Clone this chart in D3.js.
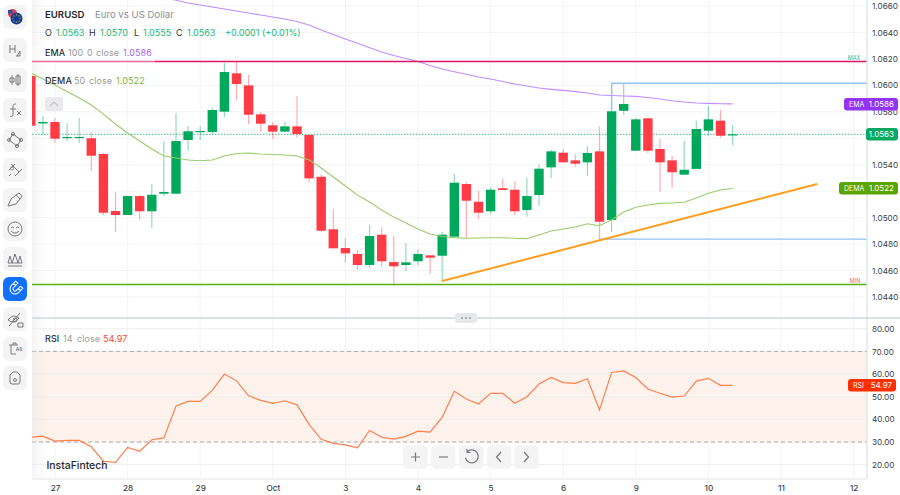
<!DOCTYPE html>
<html>
<head>
<meta charset="utf-8">
<script src="https://cdn.jsdelivr.net/npm/d3@7"></script>
<style>
  html, body { margin: 0; padding: 0; background: #fff; }
  svg { display: block; font-family: Inter, "Noto Sans", sans-serif; }
</style>
</head>
<body>
<svg id="chart" width="900" height="495"></svg>
<script>
// bar -2 is the first visible 4H candle, bar 0 is the 27th at 00:00
const firstBar = -2
const opens = [1.06071,1.05712,1.05723,1.05604,1.05604,1.05600,1.05481,1.05050,1.05020,1.05163,1.05048,1.05181,1.05181,1.05587,1.05650,1.05647,1.05801,1.06091,1.06000,1.05781,1.05698,1.05650,1.05690,1.05625,1.05309,1.04912,1.04770,1.04725,1.04642,1.04871,1.04664,1.04642,1.04670,1.04715,1.04712,1.04856,1.05254,1.05120,1.05048,1.05222,1.05211,1.05058,1.05171,1.05380,1.05491,1.05433,1.05418,1.05501,1.04982,1.05808,1.05506,1.05751,1.05519,1.05433,1.05325,1.05368,1.05657,1.05733,1.0563]
const highs = [1.06086,1.05768,1.05753,1.05713,1.05753,1.05642,1.05491,1.05194,1.05163,1.05173,1.05254,1.05579,1.05789,1.05693,1.05693,1.05831,1.06171,1.06179,1.06081,1.05801,1.05723,1.05723,1.05920,1.05625,1.05328,1.05063,1.04844,1.04755,1.04944,1.04927,1.04861,1.04806,1.04763,1.04720,1.04894,1.05330,1.05267,1.05204,1.05229,1.05292,1.05277,1.05302,1.05400,1.05511,1.05517,1.05479,1.05542,1.05687,1.06016,1.06010,1.05751,1.05751,1.05594,1.05466,1.05582,1.05733,1.05844,1.05814,1.0570]
const lows = [1.05685,1.05632,1.05566,1.05579,1.05562,1.05353,1.05020,1.04894,1.05020,1.04982,1.04921,1.05163,1.05181,1.05506,1.05587,1.05632,1.05759,1.05889,1.05708,1.05650,1.05592,1.05645,1.05607,1.05264,1.04894,1.04768,1.04659,1.04604,1.04621,1.04629,1.04498,1.04596,1.04640,1.04576,1.04516,1.04856,1.04844,1.04990,1.05027,1.05209,1.05020,1.05007,1.05088,1.05300,1.05418,1.05386,1.05315,1.04831,1.04891,1.05776,1.05506,1.05486,1.05196,1.05226,1.05325,1.05368,1.05619,1.05604,1.0555]
const closes = [1.05695,1.05723,1.05597,1.05610,1.05610,1.05468,1.05037,1.05020,1.05163,1.05048,1.05173,1.05194,1.05579,1.05653,1.05655,1.05814,1.06101,1.06010,1.05778,1.05710,1.05650,1.05690,1.05632,1.05297,1.04901,1.04768,1.04730,1.04642,1.04861,1.04670,1.04632,1.04662,1.04725,1.04697,1.04871,1.05264,1.05128,1.05037,1.05211,1.05209,1.05048,1.05163,1.05370,1.05501,1.05418,1.05408,1.05489,1.04969,1.05804,1.05859,1.05743,1.05506,1.05418,1.05343,1.05362,1.05670,1.05743,1.05619,1.0563]

const firstEmaBar = 9
const ema = [1.06664,1.06643,1.06623,1.06608,1.06592,1.06577,1.06562,1.06547,1.06532,1.06517,1.06502,1.06483,1.06456,1.06419,1.06385,1.06351,1.06318,1.06285,1.06252,1.06226,1.06203,1.06180,1.06150,1.06124,1.06103,1.06084,1.06063,1.06048,1.06029,1.06010,1.05995,1.05980,1.05970,1.05962,1.05953,1.05942,1.05927,1.05923,1.05920,1.05917,1.05908,1.05897,1.05884,1.05874,1.05867,1.05864,1.05861,1.0586]
const dema = [1.06093,1.06048,1.06003,1.05954,1.05904,1.05851,1.05783,1.05708,1.05640,1.05579,1.05519,1.05466,1.05451,1.05436,1.05430,1.05436,1.05466,1.05485,1.05489,1.05481,1.05477,1.05474,1.05466,1.05436,1.05375,1.05307,1.05239,1.05170,1.05118,1.05057,1.05004,1.04959,1.04914,1.04876,1.04857,1.04849,1.04844,1.04846,1.04848,1.04848,1.04844,1.04841,1.04869,1.04899,1.04914,1.04929,1.04954,1.04939,1.04982,1.05042,1.05078,1.05095,1.05108,1.05111,1.05116,1.05148,1.05184,1.05209,1.0522]
const rsi = [32.1,32.6,30.4,30.7,30.7,27.9,21.5,21.0,27.6,25.9,31.0,31.8,45.9,47.9,47.9,52.8,60.0,57.0,50.4,48.4,47.1,48.2,46.4,37.8,31.2,29.4,28.7,27.4,35.1,32.1,31.3,32.5,34.8,34.4,40.9,52.4,49.0,46.8,51.5,51.5,47.1,50.0,55.6,58.5,56.2,55.9,57.9,44.1,60.7,61.4,58.5,53.4,51.5,49.8,50.3,56.9,58.1,55.0,54.97]

const dayLabels = ["27","28","29","Oct","3","4","5","6","9","10","11","12"]
const priceTicks = [1.066,1.064,1.062,1.060,1.058,1.056,1.054,1.052,1.050,1.048,1.046,1.044]
// these two sit fully behind the value tags in the reference
const hiddenPriceLabels = [1.056, 1.052]
const rsiTicks = [80,70,60,50,40,30,20]

const maxPrice = 1.0618, minPrice = 1.04495, lastPrice = 1.0563
const trendBars = [32, 63], trendPrices = [1.04521, 1.05254]
const rangeHigh = 1.06016, rangeLow = 1.04838, rangeBar = 46

const barsPerDay = 6
const left = 32, right = 867

const x = d3.scaleLinear().domain([0, barsPerDay]).range([55, 127.6])
const y = d3.scaleLinear().domain([1.066, 1.044]).range([6, 297])
const yRsi = d3.scaleLinear().domain([70, 30]).range([351.4, 442])

const green = "#00a85c", red = "#ff3b45"
const svg = d3.select("#chart")

const defs = svg.append("defs")
defs.append("clipPath").attr("id", "top-clip").append("rect")
  .attr("x", left).attr("y", 0).attr("width", right - left).attr("height", 317)
defs.append("clipPath").attr("id", "rsi-clip").append("rect")
  .attr("x", left).attr("y", 320).attr("width", right - left).attr("height", 158)
const fade = defs.append("linearGradient").attr("id", "fade")
fade.append("stop").attr("offset", 0).attr("stop-color", "#e4e4e4").attr("stop-opacity", 0.4)
fade.append("stop").attr("offset", 1).attr("stop-color", "#e4e4e4").attr("stop-opacity", 0)

// grid
const dayTicks = dayLabels.map((d, i) => i * barsPerDay)
svg.append("g").selectAll("line").data(dayTicks).join("line")
  .attr("x1", d => x(d)).attr("x2", d => x(d))
  .attr("y1", 0).attr("y2", 479).attr("stroke", "#f2f4f6")
svg.append("g").selectAll("line").data(priceTicks).join("line")
  .attr("x1", left).attr("x2", right)
  .attr("y1", d => y(d)).attr("y2", d => y(d)).attr("stroke", "#f3f4f6")

// rsi band
svg.append("rect").attr("x", left).attr("width", right - left)
  .attr("y", yRsi(70)).attr("height", yRsi(30) - yRsi(70)).attr("fill", "#fdf2ec")
svg.append("g").selectAll("line").data(rsiTicks).join("line")
  .attr("x1", left).attr("x2", right)
  .attr("y1", d => yRsi(d)).attr("y2", d => yRsi(d)).attr("stroke", "#f1eeec")
svg.append("g").selectAll("line").data([70, 30]).join("line")
  .attr("x1", left).attr("x2", right)
  .attr("y1", d => yRsi(d)).attr("y2", d => yRsi(d))
  .attr("stroke", "#aaa").attr("stroke-dasharray", "4 3")

// shadow from the toolbar, under the marks
svg.append("rect").attr("x", left).attr("y", 0).attr("width", 14).attr("height", 479).attr("fill", "url(#fade)")

const rsiPlot = svg.append("g").attr("clip-path", "url(#rsi-clip)")
rsiPlot.append("path")
  .datum(rsi)
  .attr("fill", "none").attr("stroke", "#ff7f4d").attr("stroke-width", 1.2)
  .attr("d", d3.line().x((d, i) => x(i + firstBar)).y(d => yRsi(d)))

// price pane
const plot = svg.append("g").attr("clip-path", "url(#top-clip)")

plot.append("line").attr("x1", left).attr("x2", right)
  .attr("y1", y(lastPrice)).attr("y2", y(lastPrice))
  .attr("stroke", "#3cb98a").attr("stroke-dasharray", "1.5 1.5")

const bars = opens.map((o, i) => ({ bar: i + firstBar, o: o, h: highs[i], l: lows[i], c: closes[i] }))
const barColor = d => d.c >= d.o ? green : red

plot.append("g").selectAll("line").data(bars).join("line")
  .attr("x1", d => x(d.bar)).attr("x2", d => x(d.bar))
  .attr("y1", d => y(d.h)).attr("y2", d => y(d.l))
  .attr("stroke", barColor).attr("stroke-width", 1.2).attr("stroke-opacity", 0.42)

plot.append("g").selectAll("rect").data(bars).join("rect")
  .attr("x", d => x(d.bar) - 4.7).attr("width", 9.4)
  .attr("y", d => Math.min(y(d.o), y(d.c)))
  .attr("height", d => Math.max(1.2, Math.abs(y(d.o) - y(d.c))))
  .attr("fill", barColor)

const emaLine = d3.line().x((d, i) => x(i + firstEmaBar)).y(d => y(d))
const demaLine = d3.line().x((d, i) => x(i + firstBar)).y(d => y(d))
plot.append("path").datum(ema).attr("fill", "none").attr("stroke", "#c08cff").attr("stroke-width", 1.1).attr("d", emaLine)
plot.append("path").datum(dema).attr("fill", "none").attr("stroke", "#9ccb6c").attr("stroke-width", 1.1).attr("d", demaLine)

// drawn levels
plot.append("line").attr("x1", left).attr("x2", right)
  .attr("y1", y(maxPrice)).attr("y2", y(maxPrice))
  .attr("stroke", "#e0175f").attr("stroke-width", 1.5)
plot.append("line").attr("x1", left).attr("x2", right)
  .attr("y1", y(minPrice)).attr("y2", y(minPrice))
  .attr("stroke", "#5cae0e").attr("stroke-width", 1.5)
plot.append("path")
  .attr("fill", "none").attr("stroke", "#8fc3f3").attr("stroke-width", 1.3)
  .attr("d", d3.line()([[x(rangeBar), y(closes[rangeBar - firstBar])], [x(rangeBar), y(rangeHigh)], [right, y(rangeHigh)]]))
plot.append("line").attr("x1", x(rangeBar - 1)).attr("x2", right)
  .attr("y1", y(rangeLow)).attr("y2", y(rangeLow))
  .attr("stroke", "#8fc3f3").attr("stroke-width", 1.3)
plot.append("line")
  .attr("x1", x(trendBars[0])).attr("x2", x(trendBars[1]))
  .attr("y1", y(trendPrices[0])).attr("y2", y(trendPrices[1]))
  .attr("stroke", "#ff9d1e").attr("stroke-width", 2)

svg.append("text").attr("x", 854).attr("y", y(maxPrice) - 1.5).attr("text-anchor", "middle")
  .attr("font-size", 5.5).attr("fill", "#35bd8a").text("MAX")
svg.append("text").attr("x", 855).attr("y", y(minPrice) - 1.5).attr("text-anchor", "middle")
  .attr("font-size", 5.5).attr("fill", "#ef6a5a").text("MIN")

// legend rows wash out what runs underneath
svg.append("rect").attr("x", left).attr("y", 46).attr("width", 123).attr("height", 17)
  .attr("fill", "#fff").attr("opacity", 0.35)

// axes
const priceAxis = d3.axisRight(y).tickValues(priceTicks.filter(d => !hiddenPriceLabels.includes(d)))
  .tickSize(0).tickPadding(5).tickFormat(d3.format(".4f"))
const rsiAxis = d3.axisRight(yRsi).tickValues(rsiTicks).tickSize(0).tickPadding(5).tickFormat(d3.format(".2f"))
const dayAxis = d3.axisBottom(x).tickValues(dayTicks).tickSize(0).tickPadding(6).tickFormat((d, i) => dayLabels[i])

function styleAxis(g) {
  g.select(".domain").remove()
  g.selectAll("text").attr("fill", "#3a3f45").attr("font-size", 8.2).attr("font-family", "Inter")
}
svg.append("g").attr("transform", `translate(${right},0)`).call(priceAxis).call(styleAxis)
svg.append("g").attr("transform", `translate(${right},0)`).call(rsiAxis).call(styleAxis)
svg.append("g").attr("transform", "translate(0,479)").call(dayAxis).call(styleAxis)
  .selectAll("text").attr("font-weight", 500)

svg.append("line").attr("x1", right).attr("x2", right).attr("y1", 0).attr("y2", 479)
  .attr("stroke", "#d9e3e8").attr("stroke-width", 1.2)
svg.append("line").attr("x1", left).attr("x2", right).attr("y1", 479).attr("y2", 479)
  .attr("stroke", "#eceef0").attr("stroke-width", 1.5)
svg.append("line").attr("x1", left).attr("x2", 900).attr("y1", 318).attr("y2", 318)
  .attr("stroke", "#cfd9de").attr("stroke-width", 1.4)

// pane handle
svg.append("rect").attr("x", 455).attr("y", 313).attr("width", 22).attr("height", 10).attr("rx", 3).attr("fill", "#e6e8ea")
svg.append("g").selectAll("circle").data([-4, 0, 4]).join("circle")
  .attr("cx", d => 466 + d).attr("cy", 318).attr("r", 1).attr("fill", "#9aa0a6")

// value tags on the axis
const tags = [
  { top: 98, x0: 844, x1: 898, fill: "#9233f5", name: "EMA", value: "1.0586" },
  { top: 128, x0: 866, x1: 898, fill: "#06a862", name: "", value: "1.0563" },
  { top: 182, x0: 839, x1: 898, fill: "#5aa500", name: "DEMA", value: "1.0522" },
  { top: 379, x0: 848, x1: 896, fill: "#ff3000", name: "RSI", value: "54.97" }
]
const tag = svg.append("g").selectAll("g").data(tags).join("g")
tag.append("rect").attr("x", d => d.x0).attr("y", d => d.top)
  .attr("width", d => d.x1 - d.x0).attr("height", 12.6).attr("rx", 3).attr("fill", d => d.fill)
tag.append("text").attr("x", d => d.x0 + 5).attr("y", d => d.top + 9)
  .attr("font-size", 7).attr("fill", "#fff").text(d => d.name)
tag.append("text").attr("x", d => d.x1 - 4).attr("y", d => d.top + 9.2).attr("text-anchor", "end")
  .attr("font-size", 8).attr("fill", "#fff").text(d => d.value)

// legend text, every part is [text, colour, left edge, weight]
function legend(py, size, spacing, parts) {
  const t = svg.append("g").attr("font-size", size).attr("letter-spacing", spacing)
  parts.forEach(p => {
    t.append("text").attr("x", p[2]).attr("y", py).attr("fill", p[1]).attr("font-weight", p[3] || 400).text(p[0])
  })
}
const ink = "#2b2f33", muted = "#999", up = "#1cb678"
legend(18, 9.6, 0, [["EURUSD", "#1f2328", 45, 600], ["Euro vs US Dollar", "#8b8f94", 95]])
legend(35.5, 9, 0, [["O", ink, 45], ["1.0563", up, 56], ["H", ink, 89], ["1.0570", up, 100],
  ["L", ink, 134], ["1.0555", up, 143], ["C", ink, 176], ["1.0563", up, 187], ["+0.0001 (+0.01%)", up, 225]])
legend(56, 9, 0.1, [["EMA", ink, 45, 500], ["100", muted, 68], ["0", muted, 87], ["close", muted, 96], ["1.0586", "#a765f5", 123]])
legend(84, 9, 0.1, [["DEMA", ink, 45, 500], ["50", muted, 74], ["close", muted, 89], ["1.0522", "#7ab648", 116]])
legend(342, 9, 0.1, [["RSI", ink, 45, 500], ["14", muted, 63], ["close", muted, 77], ["54.97", "#ff4a2e", 103]])

// collapse button
svg.append("rect").attr("x", 45).attr("y", 97).attr("width", 18).attr("height", 14).attr("rx", 2).attr("fill", "#e9e9ee")
svg.append("path").attr("d", "M50 106l4-4 4 4").attr("fill", "none").attr("stroke", "#c3c3c8").attr("stroke-width", 1.2)

svg.append("text").attr("x", 46.5).attr("y", 469).attr("font-size", 10.4).attr("font-weight", 500)
  .attr("fill", "#24272b").text("InstaFintech")

// bottom controls
const controls = [
  { x: 403, d: "M8 12h9M12.5 7.5v9" },
  { x: 431, d: "M8 12h9" },
  { x: 459, d: "M8 7a6.5 6.5 0 1 1-1.5 6M8 4v3.5h3.5" },
  { x: 487, d: "M14 7l-4.5 5 4.500 5" },
  { x: 514, d: "M10 7l4.5 5-4.500 5" }
]
const ctl = svg.append("g").selectAll("g").data(controls).join("g")
  .attr("transform", d => `translate(${d.x},445)`)
ctl.append("rect").attr("width", 24.5).attr("height", 24).attr("rx", 5).attr("fill", "#f4f4f5")
ctl.append("path").attr("d", d => d.d).attr("fill", "none").attr("stroke", "#77797d").attr("stroke-width", 1.2)

// left toolbar
const toolIcons = [
  { cy: 17, d: "" },
  { cy: 50, d: "M-5-5v8M-5-1h5M0-5v8M2 6l3-5v5h-4" },
  { cy: 80, d: "M-3-5v10M-5-2h4v4h-4zM3-6v12M1-4h4v8h-4z" },
  { cy: 110, d: "M1-6c-3 0-3 1-3 4v7c0 1-2 2-3 1M-5-1h6M2 1l4 4M6 1l-4 4" },
  { cy: 140, d: "M-2-6l8 6-4 6-8-6zM-3.500-6a1.500 1.500 0 1 0 3 0a1.500 1.500 0 1 0-3 0M4.500 0a1.500 1.500 0 1 0 3 0a1.500 1.500 0 1 0-3 0M.5 6a1.500 1.500 0 1 0 3 0a1.500 1.500 0 1 0-3 0M-7.500 0a1.500 1.500 0 1 0 3 0a1.500 1.500 0 1 0-3 0" },
  { cy: 170, d: "M-6 0l6-6M0 6l7-7M-6 6l2-2M-4-6l8 8M-3-3a1.500 1.500 0 1 0 .1 0" },
  { cy: 200, d: "M-7 6l3-7 5-4 4 4-4 5-8 2zM1-5l3-2 3 3-2 3" },
  { cy: 229, d: "M-7 0a7 7 0 1 0 14 0a7 7 0 1 0-14 0M-4-1q1.500-2 3 0M1-1q1.500-2 3 0M-4 2q4 4 8 0" },
  { cy: 259, d: "M-7 4l2-7 2 7 3-9 3 9 2-7 2 7M-7 4h14M-7 7h14" },
  { cy: 289, d: "M-5-6v6a5 5 0 0 0 10 0v-6h-3v6a2 2 0 0 1-4 0v-6zM-5-3h3M2-3h3", rot: 45, active: true },
  { cy: 319, d: "M-7 1q5-7 11-2q-5 7-11 2zM-6 7l11-13M-2 1a2 2 0 1 0 4 0a2 2 0 1 0-4 0M3 4h5v4h-5z" },
  { cy: 349, d: "M-6-4h9M-4-4v9h5M-2-4v-2h3v2" },
  { cy: 378, d: "M-5-3l3-3h4l3 3v7a2 2 0 0 1-2 2h-6a2 2 0 0 1-2-2zM-1.500 2a1.500 1.500 0 1 0 3 0a1.500 1.500 0 1 0-3 0" }
]
const tool = svg.append("g").selectAll("g").data(toolIcons).join("g")
  .attr("transform", d => `translate(15,${d.cy})`)
tool.append("rect").attr("x", -12).attr("y", -12).attr("width", 24).attr("height", 24).attr("rx", 6)
  .attr("fill", d => d.active ? "#0f6fff" : "#f4f4f5")
tool.append("path").attr("d", d => d.d).attr("fill", "none")
  .attr("transform", d => d.rot ? `rotate(${d.rot})` : null)
  .attr("stroke", d => d.active ? "#fff" : "#77797d").attr("stroke-width", 1)
svg.append("text").attr("x", 19).attr("y", 351).attr("text-anchor", "middle")
  .attr("font-size", 5).attr("font-weight", 600).attr("fill", "#77797d").text("All")

// flag badge
const flag = svg.append("g").attr("transform", "translate(15,17)")
flag.append("circle").attr("cx", -2.5).attr("cy", -3.5).attr("r", 4.5).attr("fill", "#e0404a")
flag.append("rect").attr("x", -7).attr("y", -7).attr("width", 4.5).attr("height", 3.5).attr("fill", "#2a4fa0")
flag.append("circle").attr("cx", 1.5).attr("cy", 1.5).attr("r", 6).attr("fill", "#123e96")
flag.append("g").selectAll("circle").data(d3.range(8)).join("circle")
  .attr("cx", d => 1.5 + 3.6 * Math.cos(d * Math.PI / 4))
  .attr("cy", d => 1.5 + 3.6 * Math.sin(d * Math.PI / 4))
  .attr("r", 0.6).attr("fill", "#f5c518")
</script>
</body>
</html>
